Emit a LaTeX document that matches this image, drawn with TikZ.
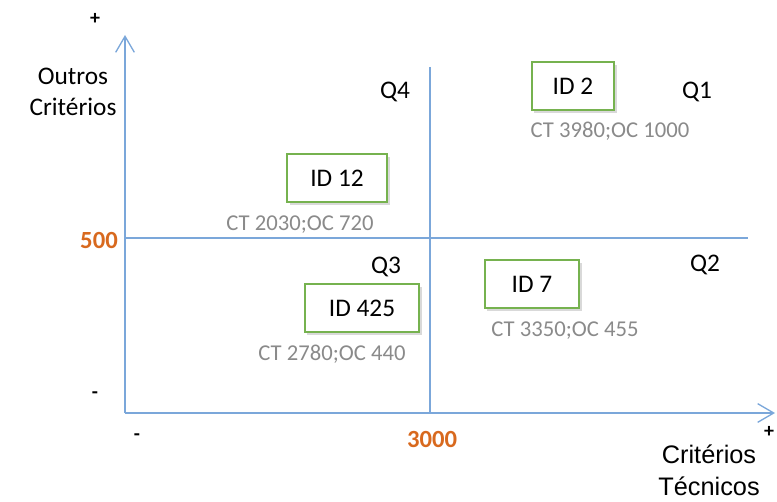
\documentclass[tikz,border=0pt]{standalone}
\usepackage{fontspec}
\setmainfont{Carlito}
\newfontfamily\arialfont{Liberation Sans}
\usepackage{xcolor}
\usetikzlibrary{shadows,arrows.meta}

\definecolor{axisblue}{HTML}{7BA7DA}
\definecolor{boxgreen}{HTML}{76B24F}
\definecolor{valgray}{HTML}{8A8A8A}
\definecolor{valorange}{HTML}{D8691E}

\begin{document}
\begin{tikzpicture}[x=0.75pt,y=-0.75pt,
    axis/.style={axisblue, line width=1pt},
    axisarrow/.style={axis, -{Straight Barb[length=12pt,width=14pt,line width=1pt]}},
    idbox/.style={draw=boxgreen, line width=1.6pt, fill=white, minimum height=36pt,
      font=\fontsize{19}{22}\selectfont,
      drop shadow={shadow xshift=2pt, shadow yshift=-2pt, opacity=0.25, fill=black!60}},
    val/.style={valgray, font=\fontsize{17}{20}\selectfont},
    lbl/.style={font=\fontsize{19}{23}\selectfont},
    tick/.style={font=\fontsize{15}{17}\selectfont\bfseries, inner sep=1pt},
    num/.style={valorange, font=\fontsize{18.5}{22}\selectfont\bfseries}]

  \useasboundingbox (0,0) rectangle (777,502);

  % axes
  \coordinate (o) at (125,413);
  \coordinate (ytop) at (125,35);
  \coordinate (xend) at (775,413);
  \draw [axisarrow] (o) -- (ytop);
  \draw [axisarrow] (o) -- (xend);

  % quadrant lines
  \coordinate (hl) at (125,238);
  \coordinate (hr) at (748,238);
  \coordinate (vt) at (430,67);
  \coordinate (vb) at (430,413);
  \draw [axis] (hl) -- (hr);
  \draw [axis] (vt) -- (vb);

  % axis labels
  \node [tick] (yplus) at (95,19) {+};
  \node [lbl, align=center] (ylabel) at (73,92) {Outros\\Critérios};
  \node [num] (y500) at (99,240) {500};
  \node [tick] (yminus) at (95,395) {-};
  \node [tick] (xminus) at (137,437) {-};
  \node [num] (x3000) at (432,439) {3000};
  \node [tick] (xplus) at (769,432) {+};
  \node [font=\arialfont\fontsize{19}{24}\selectfont, align=center] (xlabel) at (709,470) {Critérios\\Técnicos};

  % quadrants
  \node [lbl] (q4) at (395,92) {Q4};
  \node [lbl] (q1) at (697,92) {Q1};
  \node [lbl] (q3) at (386,267) {Q3};
  \node [lbl] (q2) at (705,265) {Q2};

  % ids
  \node [idbox, minimum width=62pt] (id2) at (573,86) {ID 2};
  \node [val] (v2) at (610,131) {CT 3980;OC 1000};
  \node [idbox, minimum width=75pt] (id12) at (337,178) {ID 12};
  \node [val] (v12) at (300,225) {CT 2030;OC 720};
  \node [idbox, minimum width=71pt] (id7) at (532,284) {ID 7};
  \node [val] (v7) at (565,331) {CT 3350;OC 455};
  \node [idbox, minimum width=86pt] (id425) at (362,308) {ID 425};
  \node [val] (v425) at (332,354) {CT 2780;OC 440};
\end{tikzpicture}
\end{document}
